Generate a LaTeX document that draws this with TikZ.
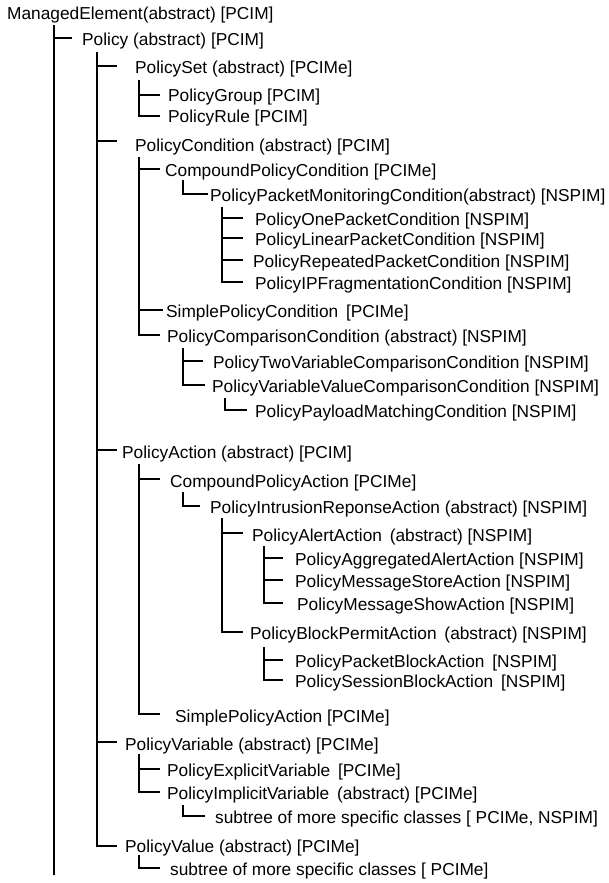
\documentclass[tikz,border=0pt]{standalone}
\usepackage{fontspec}
\setmainfont{Liberation Sans}
\begin{document}
\begin{tikzpicture}[x=1pt,y=-1pt,
  lbl/.style={anchor=base west,inner sep=0pt,font=\fontsize{17.3}{20}\selectfont},
  conn/.style={draw=black,line width=1.2pt}]
\useasboundingbox (0,0) rectangle (608,883);
% labels (x, baseline)
\node[lbl] (me)   at (7,20)    {ManagedElement(abstract) [PCIM]};
\node[lbl] (pol)  at (82,46)   {Policy (abstract) [PCIM]};
\node[lbl] (pset) at (135,74)  {PolicySet (abstract) [PCIMe]};
\node[lbl] (pgrp) at (168,101) {PolicyGroup [PCIM]};
\node[lbl] (prul) at (168,122) {PolicyRule [PCIM]};
\node[lbl] (pcon) at (135,151) {PolicyCondition (abstract) [PCIM]};
\node[lbl] (cpc)  at (165,176) {CompoundPolicyCondition [PCIMe]};
\node[lbl] (ppm)  at (210,201) {PolicyPacketMonitoringCondition(abstract) [NSPIM]};
\node[lbl] (pop)  at (255,225) {PolicyOnePacketCondition [NSPIM]};
\node[lbl] (plp)  at (255,245) {PolicyLinearPacketCondition [NSPIM]};
\node[lbl] (prp)  at (253,267) {PolicyRepeatedPacketCondition [NSPIM]};
\node[lbl] (pipf) at (255,289) {PolicyIPFragmentationCondition [NSPIM]};
\node[lbl] (spc)  at (166,317) {SimplePolicyCondition\hspace{3pt} [PCIMe]};
\node[lbl] (pcc)  at (167,342) {PolicyComparisonCondition (abstract) [NSPIM]};
\node[lbl] (ptv)  at (213,368) {PolicyTwoVariableComparisonCondition [NSPIM]};
\node[lbl] (pvv)  at (212,392) {PolicyVariableValueComparisonCondition [NSPIM]};
\node[lbl] (ppay) at (255,417) {PolicyPayloadMatchingCondition [NSPIM]};
\node[lbl] (pact) at (122,458) {PolicyAction (abstract) [PCIM]};
\node[lbl] (cpa)  at (170,487) {CompoundPolicyAction [PCIMe]};
\node[lbl] (pir)  at (210,513) {PolicyIntrusionReponseAction (abstract) [NSPIM]};
\node[lbl] (pal)  at (252,541) {PolicyAlertAction\hspace{3pt} (abstract) [NSPIM]};
\node[lbl] (paga) at (295,565) {PolicyAggregatedAlertAction [NSPIM]};
\node[lbl] (pmst) at (295,587) {PolicyMessageStoreAction [NSPIM]};
\node[lbl] (pmsh) at (297,610) {PolicyMessageShowAction [NSPIM]};
\node[lbl] (pbp)  at (250,639) {PolicyBlockPermitAction\hspace{3pt} (abstract) [NSPIM]};
\node[lbl] (ppb)  at (295,667) {PolicyPacketBlockAction\hspace{3pt} [NSPIM]};
\node[lbl] (psb)  at (295,687) {PolicySessionBlockAction\hspace{3pt} [NSPIM]};
\node[lbl] (spa)  at (175,722) {SimplePolicyAction [PCIMe]};
\node[lbl] (pvar) at (125,750) {PolicyVariable (abstract) [PCIMe]};
\node[lbl] (pexv) at (167,776) {PolicyExplicitVariable\hspace{3pt} [PCIMe]};
\node[lbl] (pimv) at (167,799) {PolicyImplicitVariable\hspace{3pt} (abstract) [PCIMe]};
\node[lbl] (sub1) at (215,823) {subtree of more specific classes [ PCIMe, NSPIM]};
\node[lbl] (pval) at (125,852) {PolicyValue (abstract) [PCIMe]};
\node[lbl] (sub2) at (170,875) {subtree of more specific classes [ PCIMe]};
% spine tops
\coordinate (s0)   at (54,25);
\coordinate (s0e)  at (54,875);
\coordinate (s1)   at (97,52);
\coordinate (sset) at (139,80);
\coordinate (scon) at (139,157);
\coordinate (scc)  at (183,180);
\coordinate (spm)  at (222,207);
\coordinate (scmp) at (183,348);
\coordinate (svv)  at (225,398);
\coordinate (sact) at (139,464);
\coordinate (sca)  at (183,492);
\coordinate (sir)  at (222,518);
\coordinate (sal)  at (264,546);
\coordinate (sbp)  at (264,647);
\coordinate (svar) at (139,754);
\coordinate (simp) at (183,805);
\coordinate (sval) at (139,855);
% connectors
\path[conn] (s0) -- (s0e);
\path[conn] (s0) |- ([xshift=-10pt,yshift=8pt]pol.base west);
\path[conn] (s1) |- ([xshift=-18pt,yshift=8pt]pset.base west);
\path[conn] (sset) |- ([xshift=-8pt,yshift=6pt]pgrp.base west);
\path[conn] (sset) |- ([xshift=-8pt,yshift=6pt]prul.base west);
\path[conn] (s1) |- ([xshift=-18pt,yshift=10pt]pcon.base west);
\path[conn] (scon) |- ([xshift=-5pt,yshift=7pt]cpc.base west);
\path[conn] (scc) |- ([xshift=-2pt,yshift=7pt]ppm.base west);
\path[conn] (spm) |- ([xshift=-12pt,yshift=7pt]pop.base west);
\path[conn] (spm) |- ([xshift=-12pt,yshift=7pt]plp.base west);
\path[conn] (spm) |- ([xshift=-10pt,yshift=7pt]prp.base west);
\path[conn] (spm) |- ([xshift=-12pt,yshift=7pt]pipf.base west);
\path[conn] (scon) |- ([xshift=-3pt,yshift=7pt]spc.base west);
\path[conn] (scon) |- ([xshift=-7pt,yshift=7pt]pcc.base west);
\path[conn] (scmp) |- ([xshift=-10pt,yshift=7pt]ptv.base west);
\path[conn] (scmp) |- ([xshift=-7pt,yshift=7pt]pvv.base west);
\path[conn] (svv) |- ([xshift=-8pt,yshift=7pt]ppay.base west);
\path[conn] (s1) |- ([xshift=-5pt,yshift=8pt]pact.base west);
\path[conn] (sact) |- ([xshift=-10pt,yshift=8pt]cpa.base west);
\path[conn] (sca) |- ([xshift=-10pt,yshift=7pt]pir.base west);
\path[conn] (sir) |- ([xshift=-9pt,yshift=8pt]pal.base west);
\path[conn] (sal) |- ([xshift=-12pt,yshift=7pt]paga.base west);
\path[conn] (sal) |- ([xshift=-12pt,yshift=7pt]pmst.base west);
\path[conn] (sal) |- ([xshift=-14pt,yshift=7pt]pmsh.base west);
\path[conn] (sir) |- ([xshift=-7pt,yshift=7pt]pbp.base west);
\path[conn] (sbp) |- ([xshift=-12pt,yshift=7pt]ppb.base west);
\path[conn] (sbp) |- ([xshift=-12pt,yshift=7pt]psb.base west);
\path[conn] (sact) |- ([xshift=-15pt,yshift=8pt]spa.base west);
\path[conn] (s1) |- ([xshift=-8pt,yshift=8pt]pvar.base west);
\path[conn] (svar) |- ([xshift=-7pt,yshift=7pt]pexv.base west);
\path[conn] (svar) |- ([xshift=-7pt,yshift=7pt]pimv.base west);
\path[conn] (simp) |- ([xshift=-10pt,yshift=7pt]sub1.base west);
\path[conn] (s1) |- ([xshift=-8pt,yshift=6pt]pval.base west);
\path[conn] (sval) |- ([xshift=-10pt,yshift=7pt]sub2.base west);
\end{tikzpicture}
\end{document}
